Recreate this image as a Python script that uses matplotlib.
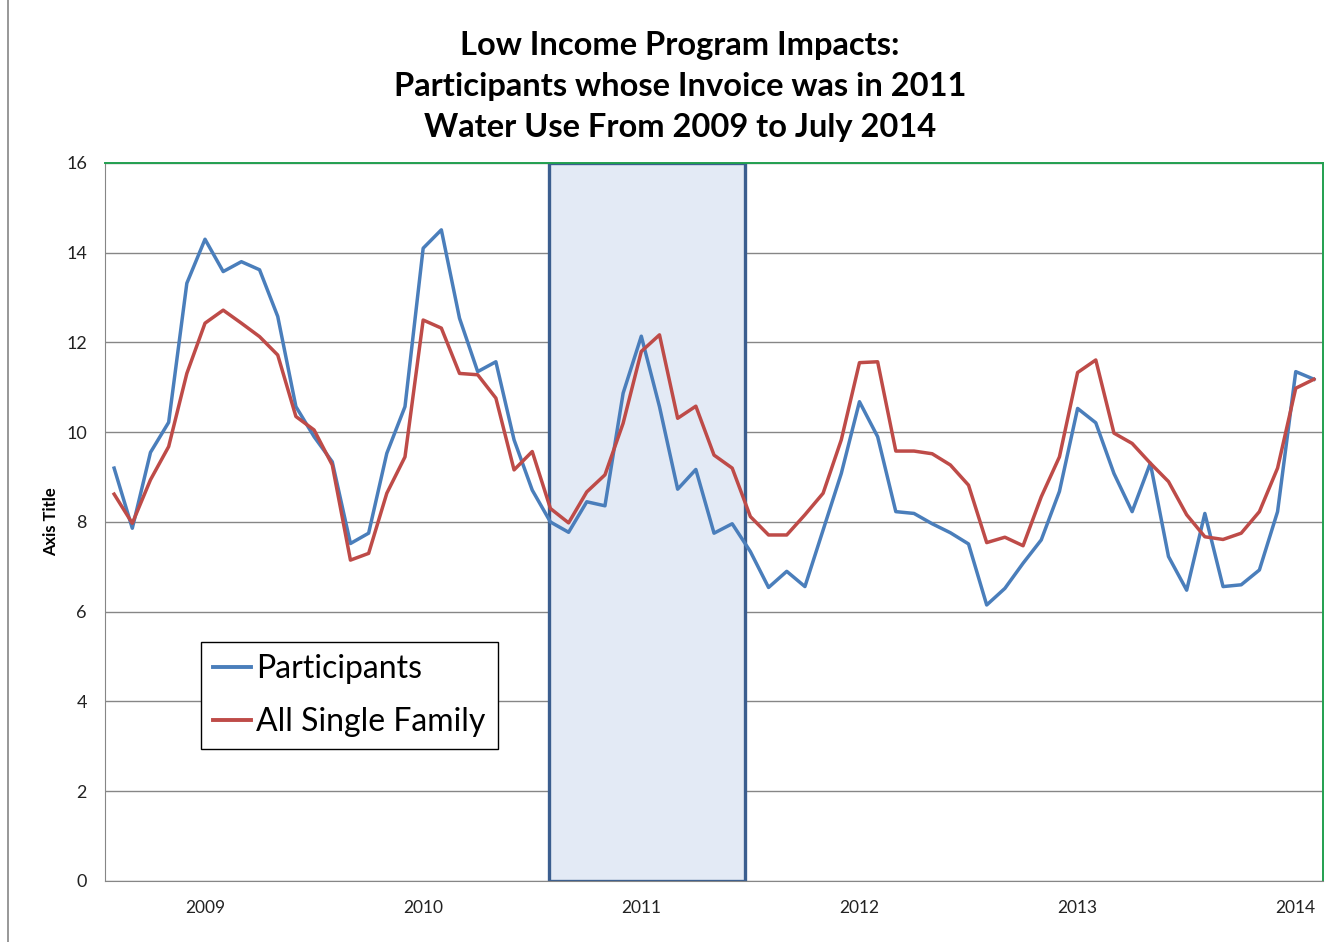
import matplotlib
matplotlib.use("Agg")
import matplotlib.pyplot as plt
from matplotlib.patches import Rectangle
from matplotlib.lines import Line2D
import numpy as np

# ── Data: monthly water use, Jan 2009 .. Jul 2014 ──────────────────────────
participants = [9.20, 7.86, 9.55, 10.22, 13.32, 14.30, 13.58, 13.80, 13.62, 12.58,
                10.57, 9.90, 9.34, 7.52, 7.75, 9.53, 10.57, 14.10, 14.51, 12.54,
                11.35, 11.57, 9.83, 8.71, 8.00, 7.77, 8.45, 8.36, 10.87, 12.14,
                10.57, 8.73, 9.17, 7.75, 7.96, 7.34, 6.54, 6.90, 6.56, 7.82,
                9.08, 10.68, 9.90, 8.23, 8.19, 7.96, 7.76, 7.51, 6.15, 6.52,
                7.08, 7.60, 8.68, 10.53, 10.21, 9.08, 8.23, 9.31, 7.23, 6.48,
                8.19, 6.56, 6.60, 6.93, 8.23, 11.35, 11.18]
single_family = [8.62, 7.97, 8.94, 9.68, 11.31, 12.43, 12.72, 12.43, 12.13, 11.72,
                 10.35, 10.05, 9.27, 7.15, 7.30, 8.64, 9.45, 12.50, 12.32, 11.31,
                 11.28, 10.76, 9.16, 9.57, 8.30, 7.98, 8.67, 9.05, 10.20, 11.80,
                 12.17, 10.31, 10.58, 9.49, 9.20, 8.12, 7.71, 7.71, 8.16, 8.64,
                 9.83, 11.55, 11.57, 9.58, 9.58, 9.52, 9.27, 8.82, 7.54, 7.66,
                 7.47, 8.56, 9.45, 11.33, 11.61, 9.98, 9.75, 9.31, 8.90, 8.16,
                 7.67, 7.61, 7.75, 8.23, 9.20, 10.98, 11.18]
year_labels = ["2009", "2010", "2011", "2012", "2013", "2014"]
year_pos    = [5, 17, 29, 41, 53, 65]
highlight   = (23.92, 34.7)   # invoice year 2011 window (category units)

BLUE = "#4A7EBB"
RED  = "#BE4B48"
FONT = "Lato"

x = np.arange(len(participants))

fig = plt.figure(figsize=(13.38, 9.42), dpi=100)
ax = fig.add_axes([0.0785, 0.0648, 0.9103, 0.7622])

ax.add_patch(Rectangle((highlight[0], 0), highlight[1] - highlight[0], 16,
                       facecolor="#E3EAF5", edgecolor="#3B5E8F", linewidth=2.4,
                       zorder=1))
ax.plot(x, participants, color=BLUE, lw=2.5, zorder=3, solid_joinstyle="round")
ax.plot(x, single_family, color=RED, lw=2.5, zorder=3, solid_joinstyle="round")

ax.set_xlim(-0.5, len(x) - 0.5)
ax.set_ylim(0, 16)
ax.set_yticks(range(0, 17, 2))
ax.set_xticks(year_pos)
ax.set_xticklabels(year_labels, fontsize=12.5, family=FONT)
ax.tick_params(axis="both", length=0, pad=14, colors="#222222")
ax.tick_params(axis="y", pad=13, labelsize=13)
for lab in ax.get_yticklabels():
    lab.set_family(FONT)
ax.grid(True, axis="y", color="#868686", lw=1, zorder=0)
ax.set_axisbelow(True)

for side in ["left", "bottom"]:
    ax.spines[side].set_color("#868686")
for side in ["top", "right"]:
    ax.spines[side].set_color("#22A050")
    ax.spines[side].set_linewidth(1.4)

ax.set_ylabel("Axis Title", fontsize=12, fontweight="bold", family=FONT,
              labelpad=5)

fig.text(0.508, 0.967, "Low Income Program Impacts:\nParticipants whose Invoice was in 2011\n"
         "Water Use From 2009 to July 2014", ha="center", va="top",
         fontsize=23.5, fontweight="bold", family=FONT, linespacing=1.5)

handles = [Line2D([], [], color=BLUE, lw=2.8), Line2D([], [], color=RED, lw=2.8)]
leg = fig.legend(handles, ["Participants", "All Single Family"],
                 loc="upper left", bbox_to_anchor=(201 / 1338, 1 - 642 / 942),
                 prop={"family": FONT, "size": 23},
                 frameon=True, fancybox=False, edgecolor="black",
                 handlelength=1.2, handletextpad=0.15, labelspacing=0.72,
                 borderpad=0.38, borderaxespad=0, framealpha=1)
leg.get_frame().set_linewidth(1.0)

# outer chart border on the left
fig.add_artist(Line2D([8 / 1338, 8 / 1338], [0, 1], color="#868686", lw=1.2,
                      transform=fig.transFigure))

fig.savefig("out.png", dpi=100)
